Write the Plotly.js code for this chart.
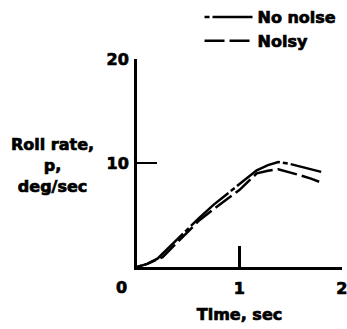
<!DOCTYPE html>
<html>
<head>
<meta charset="utf-8">
<script src="https://cdn.plot.ly/plotly-3.0.1.min.js"></script>
<style>html,body{margin:0;padding:0;background:#fff;}#chart{width:347px;height:329px;}
#chart text{stroke:#000;stroke-width:0.7px;}</style>
</head>
<body>
<div id="chart"></div>
<script>
var tClean = [0, 0.1, 0.2, 0.3, 0.45, 0.6, 0.75, 0.9, 1.05, 1.17, 1.28, 1.38, 1.5, 1.6, 1.7, 1.8];
var pClean = [0, 0.3, 0.8, 1.75, 3.25, 4.65, 6.0, 7.2, 8.4, 9.3, 9.8, 10.1, 9.9, 9.65, 9.4, 9.15];
var tNoisy = [0, 0.1, 0.25, 0.42, 0.61, 0.78, 1.0, 1.17, 1.28, 1.38, 1.5, 1.6, 1.7, 1.78];
var pNoisy = [0, 0.3, 0.95, 2.6, 4.5, 5.8, 7.4, 9.0, 9.25, 9.4, 9.1, 8.8, 8.5, 8.2];
var xTicks = [1, 2];
var xTickText = ['1', '2'];
var yTicks = [10, 20];
var yTickText = ['10', '20'];
var seriesNames = ['No noise', 'Nolsy'];
var yTitle = 'Roll rate,<br>p,<br>deg/sec';
var xTitle = 'Time, sec';

var F = {family: 'DejaVu Sans', weight: 'bold', size: 16, color: '#000'};

var traces = [
  {x: tClean, y: pClean, name: seriesNames[0], mode: 'lines',
   line: {color: '#000', width: 2.5, dash: '5px,3px,50px,3px'}},
  {x: tNoisy, y: pNoisy, name: seriesNames[1], mode: 'lines',
   line: {color: '#000', width: 2.5, dash: '20px,5px'}}
];

var layout = {
  width: 347, height: 329,
  margin: {l: 137, r: 5, t: 59, b: 62},
  paper_bgcolor: '#fff', plot_bgcolor: '#fff',
  font: F,
  showlegend: true,
  legend: {x: 0.305, y: 1.006, xref: 'paper', yref: 'container', xanchor: 'left', yanchor: 'top', font: F,
           itemwidth: 48, bgcolor: 'rgba(0,0,0,0)', tracegroupgap: 0},
  xaxis: {range: [0, 2.003], showgrid: false, zeroline: false,
          showline: true, linecolor: '#000', linewidth: 3,
          ticks: 'inside', ticklen: 21, tickwidth: 2.5, tickcolor: '#000',
          tickvals: xTicks, ticktext: xTickText, tickfont: F,
          ticklabelstandoff: 5, ticklabeloverflow: 'allow',
          title: {text: xTitle, font: F, standoff: 12}},
  yaxis: {range: [0, 20], showgrid: false, zeroline: false,
          showline: true, linecolor: '#000', linewidth: 3,
          ticks: 'inside', ticklen: 20, tickwidth: 2.5, tickcolor: '#000',
          tickvals: yTicks, ticktext: yTickText, tickfont: F,
          ticklabelstandoff: 2},
  annotations: [
    {text: yTitle, xref: 'paper', yref: 'paper', x: -0.41, y: 0.49,
     xanchor: 'center', yanchor: 'middle', showarrow: false, font: F, align: 'center'},
    {text: '0', xref: 'x', yref: 'paper', x: 0, y: 0, xshift: -16, yshift: -20,
     xanchor: 'center', yanchor: 'middle', showarrow: false, font: F}
  ]
};

Plotly.newPlot('chart', traces, layout, {displayModeBar: false, staticPlot: true});
</script>
</body>
</html>
